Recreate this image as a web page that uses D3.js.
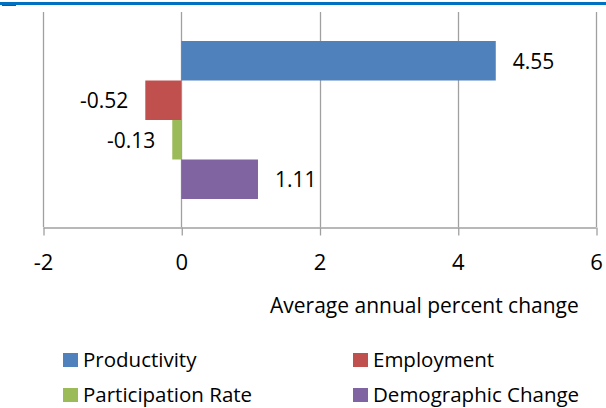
<!DOCTYPE html>
<html>
<head>
<meta charset="utf-8">
<script src="https://cdn.jsdelivr.net/npm/d3@7"></script>
<style>
    html, body { margin: 0; padding: 0; background: #fff; }
    svg text { font-family: "Open Sans", "Noto Sans", sans-serif; fill: #000; }
</style>
</head>
<body>
<script>
// chart data
var series = ["Productivity", "Employment", "Participation Rate", "Demographic Change"];
var values = [4.55, -0.52, -0.13, 1.11];
var labels = ["4.55", "-0.52", "-0.13", "1.11"];
var colors = ["#4f81bd", "#c0504d", "#9bbb59", "#8064a2"];
var xTicks = [-2, 0, 2, 4, 6];
var xTitle = "Average annual percent change";

(function () {
    var width = 606,
        height = 408;

    var svg = d3.select("body")
        .append("svg")
        .attr("width", width)
        .attr("height", height);

    // top rule
    svg.append("rect")
        .attr("x", 0).attr("y", 2)
        .attr("width", width).attr("height", 3)
        .attr("fill", "#0070c0");
    svg.append("rect")
        .attr("x", 2).attr("y", 5)
        .attr("width", 14).attr("height", 1)
        .attr("fill", "#0060a8");

    var plotTop = 12,
        plotBottom = 227;

    var x = d3.scaleLinear()
        .domain([-2, 6])
        .range([43, 596]);

    var y = d3.scaleBand()
        .domain(series)
        .range([41, 199])
        .padding(0);

    // vertical gridlines
    svg.append("g")
        .selectAll("line")
        .data(xTicks)
        .enter().append("line")
        .attr("x1", function (d) { return Math.round(x(d)) + 0.5; })
        .attr("x2", function (d) { return Math.round(x(d)) + 0.5; })
        .attr("y1", plotTop)
        .attr("y2", plotBottom)
        .attr("stroke", "#a0a0a0")
        .attr("stroke-width", 1.3);

    // x axis
    var axis = d3.axisBottom(x)
        .tickValues(xTicks)
        .tickSize(8)
        .tickSizeOuter(0)
        .tickFormat(function (d) { return String(d); });

    var gx = svg.append("g")
        .attr("transform", "translate(0," + (plotBottom + 0.5) + ")")
        .call(axis);

    gx.select(".domain").attr("stroke", "#a0a0a0").attr("stroke-width", 1.3);
    gx.selectAll(".tick line")
        .attr("stroke", "#a0a0a0")
        .attr("stroke-width", 1.3)
        .attr("transform", "translate(0.5,0)");
    gx.selectAll(".tick text")
        .attr("y", 42.5)
        .attr("dy", null)
        .style("font-size", "22px")
        .style("font-family", "'Open Sans', sans-serif")
        .attr("fill", "#000");

    svg.append("text")
        .attr("x", 270)
        .attr("y", 312.5)
        .style("font-size", "21px")
        .text(xTitle);

    // bars
    var data = series.map(function (s, i) {
        return { name: s, value: values[i], label: labels[i], color: colors[i] };
    });

    svg.append("g")
        .selectAll("rect")
        .data(data)
        .enter().append("rect")
        .attr("x", function (d) { return x(Math.min(0, d.value)); })
        .attr("width", function (d) { return Math.abs(x(d.value) - x(0)); })
        .attr("y", function (d) { return y(d.name); })
        .attr("height", y.bandwidth())
        .attr("fill", function (d) { return d.color; });

    // data labels
    svg.append("g")
        .selectAll("text")
        .data(data)
        .enter().append("text")
        .attr("x", function (d) { return d.value >= 0 ? x(d.value) + 17 : x(d.value) - 17; })
        .attr("y", function (d) { return y(d.name) + y.bandwidth() / 2 + 8; })
        .attr("text-anchor", function (d) { return d.value >= 0 ? "start" : "end"; })
        .style("font-size", "21px")
        .text(function (d) { return d.label; });

    // legend
    var legendX = [63, 353],
        legendY = [353, 388];

    var legend = svg.append("g")
        .selectAll("g")
        .data(data)
        .enter().append("g")
        .attr("transform", function (d, i) {
            return "translate(" + legendX[i % 2] + "," + legendY[Math.floor(i / 2)] + ")";
        });

    legend.append("rect")
        .attr("width", 15)
        .attr("height", 14)
        .attr("fill", function (d) { return d.color; });

    legend.append("text")
        .attr("x", 20)
        .attr("y", 13.5)
        .style("font-size", "20.5px")
        .text(function (d) { return d.name; });
}());
</script>
</body>
</html>
